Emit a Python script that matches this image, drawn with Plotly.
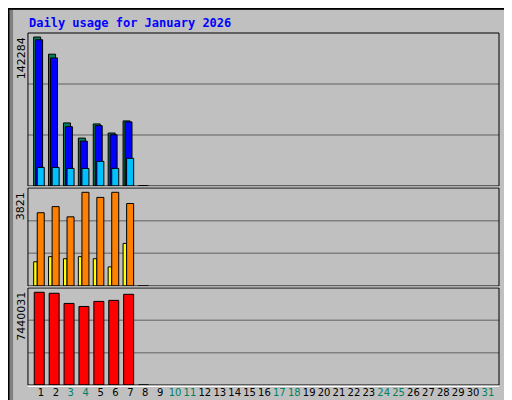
import plotly.graph_objects as go

# daily values
days = list(range(1, 32))
hits = [142284, 125900, 60230, 45750, 59270, 50580, 62160, 0]
files = [139680, 122300, 56660, 42860, 57630, 48940, 61200, 0]
pages = [17760, 17760, 16800, 16800, 23550, 16800, 26450, 0]
visits = [988, 1196, 1113, 1196, 1113, 779, 1738, 0]
sites = [2988, 3238, 2821, 3821, 3613, 3821, 3363, 0]
kbytes = [7440031, 7358600, 6544600, 6300400, 6707400, 6788800, 7277200, 0]
weekends = [3, 4, 10, 11, 17, 18, 24, 25, 31]

BG = '#C0C0C0'
MONO = 'DejaVu Sans Mono'
x = days[:len(hits)]

fig = go.Figure()

def add_bars(vals, color, off, width, yaxis):
    fig.add_trace(go.Bar(x=x, y=vals, offset=off, width=width, yaxis=yaxis,
                         marker=dict(color=color, line=dict(color='black', width=1))))

add_bars(hits, '#00805C', -0.49, 0.47, 'y')
add_bars(files, '#0000FF', -0.36, 0.47, 'y')
add_bars(pages, '#00C0FF', -0.25, 0.47, 'y')
add_bars(visits, '#FFFF00', -0.49, 0.24, 'y2')
add_bars(sites, '#FF8000', -0.25, 0.47, 'y2')
add_bars(kbytes, '#FF0000', -0.45, 0.67, 'y3')

ticktext = ["<span style='color:#008060'>%d</span>" % d if d in weekends else str(d)
            for d in days]

doms = [[0.555, 0.9375], [0.305, 0.55], [0.0575, 0.30]]
fig.update_layout(
    width=512, height=400, margin=dict(l=0, r=0, t=0, b=0, autoexpand=False),
    paper_bgcolor=BG, plot_bgcolor=BG, showlegend=False, barmode='overlay',
    xaxis=dict(domain=[0.039, 0.959], range=[0.128, 31.74], tickvals=days,
               ticktext=ticktext, showgrid=False, zeroline=False, ticks='',
               tickangle=0, automargin=False,
               tickfont=dict(family='DejaVu Sans', size=10, color='black'),
               anchor='y3'),
    yaxis=dict(domain=doms[0], range=[0, max(hits) * 1.027]),
    yaxis2=dict(domain=doms[1], range=[0, max(sites) * 1.046]),
    yaxis3=dict(domain=doms[2], range=[0, max(kbytes) * 1.046]),
)
for ax in ['yaxis', 'yaxis2', 'yaxis3']:
    fig.layout[ax].update(showgrid=False, zeroline=False, showticklabels=False, ticks='',
                          automargin=False)

# gridlines and panel frames
for dom in doms:
    for f in (1 / 3, 2 / 3):
        yy = dom[0] + (dom[1] - dom[0]) * f
        fig.add_shape(type='line', xref='paper', yref='paper', x0=0.039, x1=0.959,
                      y0=yy, y1=yy, line=dict(color='#808080', width=1.5), layer='below')
    fig.add_shape(type='rect', xref='paper', yref='paper', x0=0.039, x1=0.959,
                  y0=dom[0], y1=dom[1], line=dict(color='black', width=1))
    fig.add_shape(type='line', xref='paper', yref='paper', x0=0.039, x1=0.959,
                  y0=dom[0] - 0.003, y1=dom[0] - 0.003, line=dict(color='white', width=1.5))

# outer frame with shadow
fig.add_shape(type='rect', xref='paper', yref='paper', x0=0.006, x1=0.996, y0=0.0, y1=1.0,
              line=dict(color='#808080', width=4))
fig.add_shape(type='rect', xref='paper', yref='paper', x0=0.001, x1=0.99, y0=0.01, y1=0.998,
              line=dict(color='black', width=2))

fig.add_annotation(text='<b>Daily usage for January 2026</b>', xref='paper', yref='paper',
                   x=0.037, y=0.985, xanchor='left', yanchor='top', showarrow=False,
                   font=dict(family=MONO, size=12, color='#0000FF'))

maxlabels = [str(max(hits)), str(max(sites)), str(max(kbytes))]
for dom, lab in zip(doms, maxlabels):
    fig.add_annotation(text=lab, textangle=-90, xref='paper', yref='paper', x=0.026,
                       y=dom[1] - 0.005, xanchor='center', yanchor='top', showarrow=False,
                       font=dict(family='DejaVu Sans', size=11, color='black'))

legends = [
    "<span style='color:#00C0FF'>Pages</span> / <span style='color:#0000FF'>Files</span>"
    " / <span style='color:#008060'>Hits</span>",
    "<span style='color:#FF8000'>Sites</span> / <span style='color:#FFFF00'>Visits</span>",
    "<span style='color:#FF0000'>KBytes</span>",
]
for dom, lab in zip(doms, legends):
    fig.add_annotation(text=lab, textangle=-90, xref='paper', yref='paper', x=0.962,
                       y=dom[1] - 0.005, xanchor='left', yanchor='top', showarrow=False,
                       font=dict(family=MONO, size=11, color='black'))

fig.write_html("out.html")
